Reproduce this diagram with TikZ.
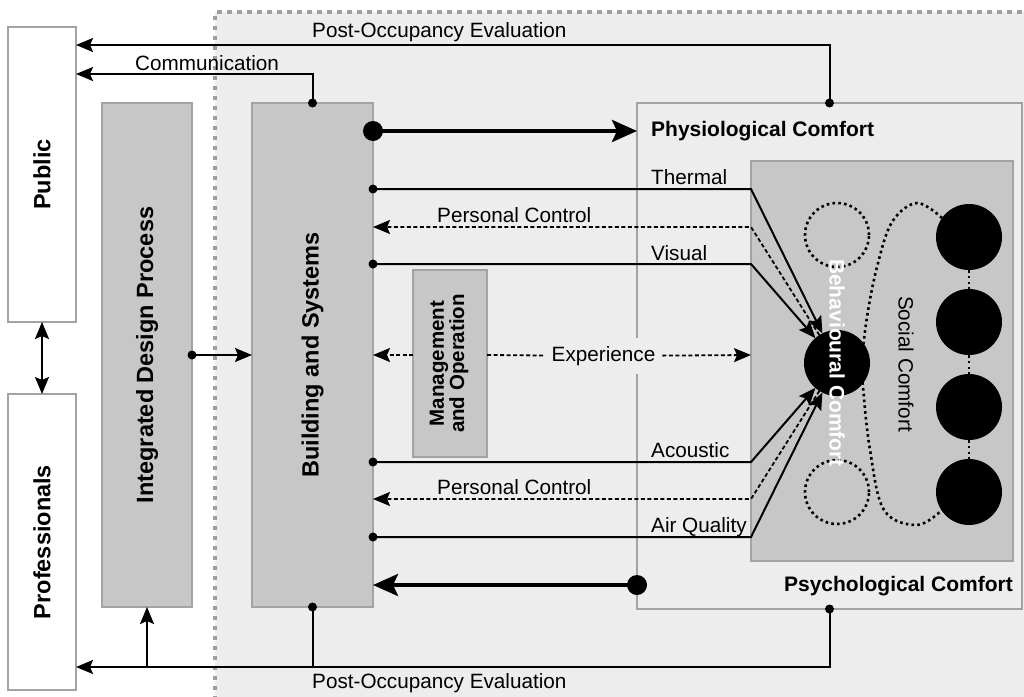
\documentclass[tikz,border=0pt]{standalone}
\usepackage{fontspec}
\setmainfont{Liberation Sans}
\usetikzlibrary{arrows.meta,calc}
\definecolor{bgc}{HTML}{EDEDED}
\definecolor{boxc}{HTML}{C7C7C7}
\definecolor{bordc}{HTML}{A3A3A3}
\definecolor{framec}{HTML}{9E9E9E}
\begin{document}
\begin{tikzpicture}[x=1pt,y=-1pt,
  lbl/.style={font=\fontsize{20.7}{24}\selectfont, inner sep=0pt},
  blbl/.style={font=\fontsize{21}{24}\selectfont\bfseries, inner sep=0pt},
  biglbl/.style={font=\fontsize{23.5}{26}\selectfont\bfseries, inner sep=0pt, rotate=90},
  gbox/.style={draw=bordc, fill=boxc, line width=2.5pt, inner sep=0pt, outer sep=0pt},
  wbox/.style={draw=bordc, fill=white, line width=2.5pt, inner sep=0pt, outer sep=0pt},
  lbox/.style={draw=bordc, fill=bgc, line width=2.5pt, inner sep=0pt, outer sep=0pt},
  tip/.style={-{Stealth[length=17pt,width=14pt,inset=3pt]}},
  plain/.style={line width=2pt},
  conn/.style={line width=2pt, tip},
  dashline/.style={line width=1.8pt, dash pattern=on 4pt off 2.5pt},
  dashconn/.style={dashline, tip},
  heavy/.style={line width=4pt, -{Stealth[length=25pt,width=22pt,inset=5pt]}},
  dotline/.style={line width=2.6pt, dash pattern=on 2.6pt off 3.2pt},
  bigdisc/.style={circle, fill=black, minimum size=66pt, inner sep=0pt, outer sep=0pt},
  ringdisc/.style={circle, draw=black, dotline, minimum size=64pt, inner sep=0pt, outer sep=0pt}
]
\useasboundingbox (0,0) rectangle (1024,696);
\fill[white] (0,0) rectangle (1024,696);

% shaded zone with dotted frame
\fill[bgc] (215,12) rectangle (1030,700);
\draw[framec, line width=4.5pt, dash pattern=on 4.5pt off 5.5pt] (215,700) -- (215,12) -- (1030,12);

% horizontal levels of the connectors
\coordinate (yPOEt) at (0,45);
\coordinate (yCom) at (0,74);
\coordinate (yPhys) at (0,131);
\coordinate (yTh) at (0,189);
\coordinate (yPCa) at (0,227);
\coordinate (yVis) at (0,264);
\coordinate (yExp) at (0,355);
\coordinate (yAc) at (0,462);
\coordinate (yPCb) at (0,499);
\coordinate (yAir) at (0,537);
\coordinate (yPsy) at (0,585);
\coordinate (yPOEb) at (0,667);

% boxes
\node[wbox, minimum width=68pt, minimum height=295pt] (pub) at (42,174.5) {};
\node[wbox, minimum width=68pt, minimum height=296pt] (pro) at (42,542) {};
\node[gbox, minimum width=90pt, minimum height=504pt] (idp) at (147,355) {};
\node[gbox, minimum width=121pt, minimum height=504pt] (bs) at (312.5,355) {};
\node[lbox, minimum width=385pt, minimum height=506pt] (oc) at (829.5,356) {};
\node[gbox, minimum width=262pt, minimum height=400pt] (ib) at (882,361) {};
\node[gbox, minimum width=74pt, minimum height=187pt] (mo) at (450,363.5) {};

\node[biglbl] (pubtxt) at (pub.center) {Public};
\node[biglbl] (protxt) at (pro.center) {Professionals};
\node[biglbl] (idptxt) at (idp.center) {Integrated Design Process};
\node[biglbl] (bstxt) at (bs.center) {Building and Systems};
\node[font=\fontsize{20.5}{18.5}\selectfont\bfseries, inner sep=0pt, rotate=90, align=center] (motxt) at (449,363.5) {Management\\and Operation};

% social comfort loop
\draw[dotline] plot[smooth, tension=0.6] coordinates {(942,218) (917,203) (892,222) (877,267) (867,317) (862,362) (863,387) (870,450) (884,510) (917,525) (942,510)};

% occupant circles
\node[ringdisc] (da) at (837,235) {};
\node[ringdisc] (db) at (837,492) {};
\node[bigdisc] (bc) at (837,363) {};
\node[bigdisc] (s1) at (969,237) {};
\node[bigdisc] (s2) at (969,322) {};
\node[bigdisc] (s3) at (969,407) {};
\node[bigdisc] (s4) at (969,492) {};
\draw[dotline] (s1) -- (s2);
\draw[dotline] (s2) -- (s3);
\draw[dotline] (s3) -- (s4);

% labels
\node[lbl, anchor=base west] (lpoet) at (312,37) {Post-Occupancy Evaluation};
\node[lbl, anchor=base west] (lcom) at (135,70) {Communication};
\node[blbl, anchor=base west] (lphys) at (651,136) {Physiological Comfort};
\node[lbl, anchor=base west] (lth) at (651,184) {Thermal};
\node[lbl, anchor=base west] (lpca) at (437,222) {Personal Control};
\node[lbl, anchor=base west] (lvis) at (651,260) {Visual};
\node[lbl, anchor=base west] (lac) at (651,457) {Acoustic};
\node[lbl, anchor=base west] (lpcb) at (437,494) {Personal Control};
\node[lbl, anchor=base west] (lair) at (651,532) {Air Quality};
\node[blbl, anchor=base east] (lpsy) at (1013,591) {Psychological Comfort};
\node[lbl, anchor=base west] (lpoeb) at (312,688) {Post-Occupancy Evaluation};
\node[lbl, fill=bgc, inner xsep=7pt, minimum height=36pt] (exp) at (603.5,356) {Experience};

% feedback to the public and professionals
\draw[conn] (oc.north) |- (pub.east |- yPOEt);
\draw[conn] (bs.north) |- (pub.east |- yCom);
\draw[conn] (oc.south) |- (pro.east |- yPOEb);
\draw[plain] (bs.south) -- (bs.south |- yPOEb);
\draw[conn] (idp.south |- yPOEb) -- (idp.south);
\draw[line width=2pt, {Stealth[length=17pt,width=14pt,inset=3pt]}-{Stealth[length=17pt,width=14pt,inset=3pt]}] (pub.south) -- (pro.north);
\draw[conn] (idp.east) -- (bs.west);

% comfort flows
\draw[heavy] (bs.east |- yPhys) -- (oc.west |- yPhys);
\draw[heavy] (oc.west |- yPsy) -- (bs.east |- yPsy);
\draw[conn] (bs.east |- yTh) -- (ib.west |- yTh) -- (bc);
\draw[dashconn] (bc) -- (ib.west |- yPCa) -- (bs.east |- yPCa);
\draw[conn] (bs.east |- yVis) -- (ib.west |- yVis) -- (bc);
\draw[conn] (bs.east |- yAc) -- (ib.west |- yAc) -- (bc);
\draw[dashconn] (bc) -- (ib.west |- yPCb) -- (bs.east |- yPCb);
\draw[conn] (bs.east |- yAir) -- (ib.west |- yAir) -- (bc);
\draw[dashconn] (mo.west |- yExp) -- (bs.east |- yExp);
\draw[dashline] (mo.east |- yExp) -- (exp);
\draw[dashconn] (exp) -- (ib.west |- yExp);

% junction dots
\foreach \p in {(oc.north), (bs.north), (oc.south), (bs.south), (idp.east),
  (bs.east |- yTh), (bs.east |- yVis), (bs.east |- yAc), (bs.east |- yAir)}
  \fill \p circle (4.5pt);
\fill (bs.east |- yPhys) circle (10pt);
\fill (oc.west |- yPsy) circle (10pt);

% comfort names
\node[font=\fontsize{21}{24}\selectfont\bfseries, text=white, inner sep=0pt, rotate=-90] (bctxt) at (bc.center) {Behavioural Comfort};
\node[lbl, rotate=-90] (sctxt) at (906,364) {Social Comfort};
\end{tikzpicture}
\end{document}
